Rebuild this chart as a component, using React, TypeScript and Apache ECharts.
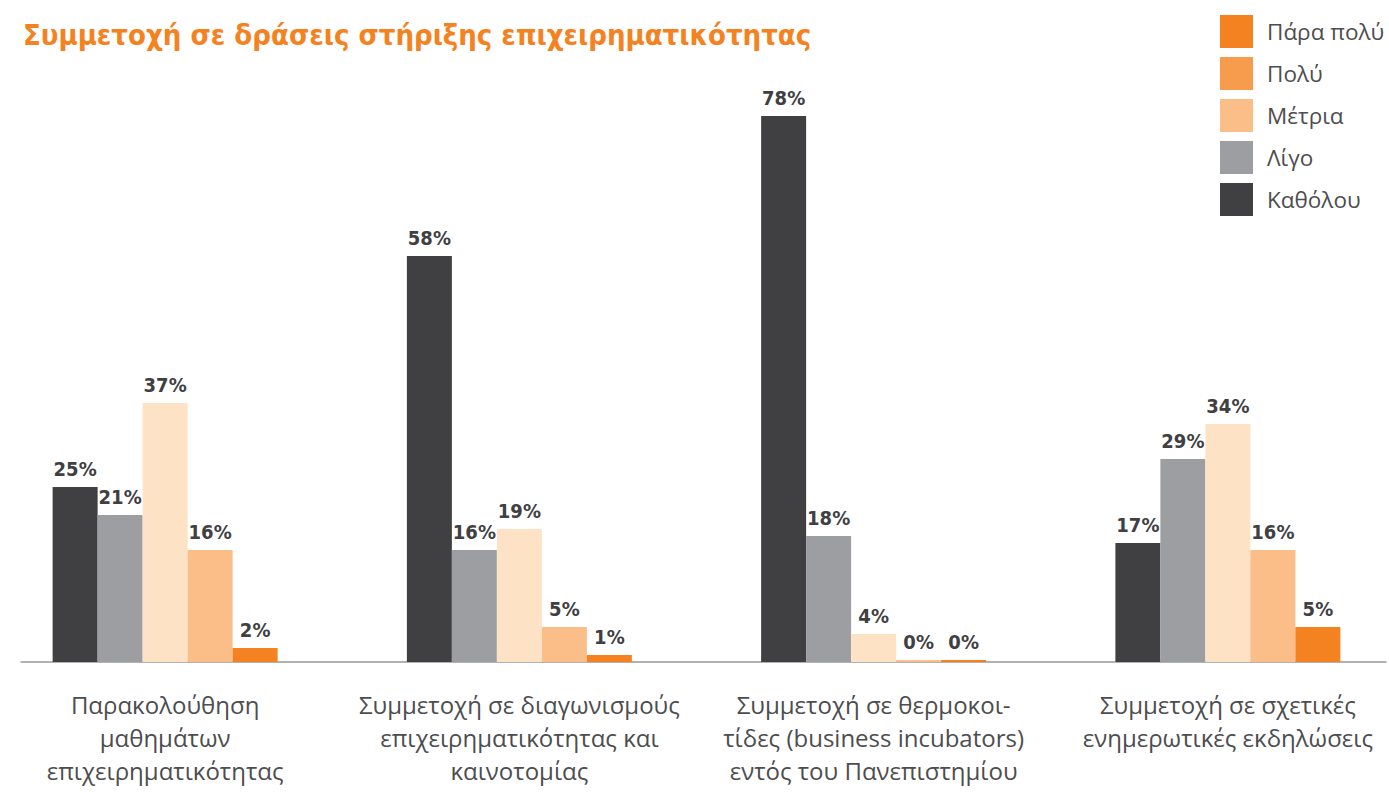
import React, { useEffect, useRef } from "react";
import * as echarts from "echarts";

const categories = [
  "Παρακολούθηση\nμαθημάτων\nεπιχειρηματικότητας",
  "Συμμετοχή σε διαγωνισμούς\nεπιχειρηματικότητας και\nκαινοτομίας",
  "Συμμετοχή σε θερμοκοι-\nτίδες (business incubators)\nεντός του Πανεπιστημίου",
  "Συμμετοχή σε σχετικές\nενημερωτικές εκδηλώσεις",
];

const seriesNames = ["Καθόλου", "Λίγο", "Μέτρια", "Πολύ", "Πάρα πολύ"];
const katholou = [25, 58, 78, 17];
const ligo = [21, 16, 18, 29];
const metria = [37, 19, 4, 34];
const poly = [16, 5, 0, 16];
const paraPoly = [2, 1, 0, 5];

const barColors = ["#404042", "#9D9EA2", "#FEE2C6", "#FBBE88", "#F58220"];
const legendOrder = ["Πάρα πολύ", "Πολύ", "Μέτρια", "Λίγο", "Καθόλου"];
const legendColors = ["#F58220", "#F79B4C", "#FBBE88", "#9D9EA2", "#404042"];

const titleText = "Συμμετοχή σε δράσεις στήριξης επιχειρηματικότητας";

// the chart canvas is shifted 12px left of the page so the category bands line up
const SHIFT = 12;

export default function App() {
  const ref = useRef<HTMLDivElement>(null);
  useEffect(() => {
    if (!ref.current) return;
    const chart = echarts.init(ref.current, null, { renderer: "svg" });
    const values = [katholou, ligo, metria, poly, paraPoly];
    const series = seriesNames.map((name, i) => ({
      name,
      type: "bar",
      xAxisIndex: 0,
      yAxisIndex: 0,
      data: values[i],
      barWidth: 45,
      barGap: "0%",
      barMinHeight: i >= 3 ? 2 : 0,
      itemStyle: { color: barColors[i] },
      label: {
        show: true,
        position: "top",
        distance: 8,
        formatter: "{c}%",
        color: "#404042",
        fontFamily: "DejaVu Sans Condensed",
        fontWeight: "bold",
        fontSize: 20,
      },
    }));
    chart.setOption({
      animation: false,
      backgroundColor: "#ffffff",
      title: {
        text: titleText,
        left: 18 + SHIFT,
        top: 15,
        textStyle: {
          color: "#F58220",
          fontFamily: "DejaVu Sans Condensed",
          fontWeight: "bold",
          fontSize: 29,
        },
      },
      legend: {
        orient: "vertical",
        left: 1215 + SHIFT,
        top: 10,
        itemWidth: 33,
        itemHeight: 33,
        itemGap: 9,
        icon: "rect",
        data: legendOrder.map((n, i) => ({
          name: n,
          itemStyle: { color: legendColors[i] },
        })),
        textStyle: {
          color: "#4D4D4F",
          fontFamily: "Open Sans",
          fontSize: 22.5,
          padding: [0, 0, 0, 9],
        },
      },
      grid: [
        { left: 0, right: 0, top: 102, bottom: 150 },
        { left: 21 + SHIFT, right: 1417 - 1386 - SHIFT, top: 102, bottom: 150 },
      ],
      xAxis: [
        {
          type: "category",
          gridIndex: 0,
          data: categories,
          axisLine: { show: false },
          axisTick: { show: false },
          axisLabel: {
            interval: 0,
            margin: 26,
            color: "#4D4D4F",
            fontFamily: "Open Sans",
            fontSize: 24,
            lineHeight: 33,
          },
        },
        {
          type: "value",
          gridIndex: 1,
          min: 0,
          max: 1,
          axisLine: { show: true, lineStyle: { color: "#999999", width: 1.5 } },
          axisTick: { show: false },
          axisLabel: { show: false },
          splitLine: { show: false },
        },
      ],
      yAxis: [
        { type: "value", gridIndex: 0, min: 0, max: 80, show: false },
        { type: "value", gridIndex: 1, min: 0, max: 80, show: false },
      ],
      series,
    });
    return () => chart.dispose();
  }, []);
  return (
    <div
      style={{
        position: "absolute",
        left: 0,
        top: 0,
        width: 1389,
        height: 812,
        overflow: "hidden",
        background: "#ffffff",
      }}
    >
      <div
        ref={ref}
        style={{ position: "absolute", left: -SHIFT, top: 0, width: 1417, height: 812 }}
      />
    </div>
  );
}
